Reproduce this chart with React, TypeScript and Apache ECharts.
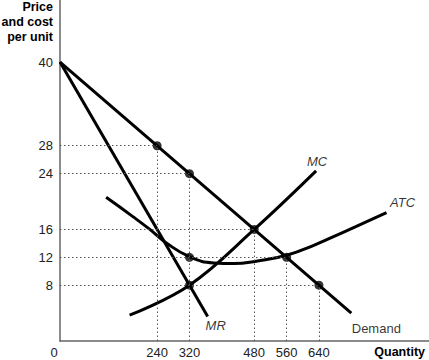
import React, { useEffect, useRef } from "react";
import * as echarts from "echarts";

// Curves (quantity, price)
const demand: [number, number][] = [[0, 40], [720, 4]];
const mr: [number, number][] = [[0, 40], [365, 3.5]];
const mc: [number, number][] = [[172, 3.7], [320, 8], [480, 16], [633, 24.4]];
const atc: [number, number][] = [
  [114, 20.6], [181, 17.8], [222, 16.0], [262, 14.1], [320, 12.1], [380, 11.2],
  [430, 11.1], [485, 11.45], [560, 12.3], [630, 13.8], [708, 15.8], [807, 18.4],
];

// Highlighted demand points with dotted guides
const guidePoints: [number, number][] = [[240, 28], [320, 24], [480, 16], [560, 12], [640, 8]];
const extraDots: [number, number][] = [[320, 12], [320, 8]];

const xTicks = [0, 240, 320, 480, 560, 640];
const yTicks = [8, 12, 16, 24, 28, 40];
const yTitleLines = ["Price", "and cost", "per unit"];

const curveLabels = [
  { name: "MC", at: mc[mc.length - 1], italic: true, offset: [1, -9] },
  { name: "ATC", at: atc[atc.length - 1], italic: true, offset: [16, -10] },
  { name: "MR", at: mr[mr.length - 1], italic: true, offset: [8, 9] },
  { name: "Demand", at: demand[demand.length - 1], italic: false, offset: [25, 15] },
];

const FONT = "'Liberation Sans', Arial, Helvetica, sans-serif";

export default function App() {
  const ref = useRef<HTMLDivElement>(null);
  useEffect(() => {
    if (!ref.current) return;
    const chart = echarts.init(ref.current, undefined, { renderer: "svg" });
    const guideLines: any[] = [];
    guidePoints.forEach(([x, y]) => {
      guideLines.push([{ coord: [0, y] }, { coord: [x, y] }]);
      guideLines.push([{ coord: [x, 0] }, { coord: [x, y] }]);
    });
    const lineStyle = { color: "#000", width: 3 };
    chart.setOption({
      animation: false,
      grid: { left: 60, right: 0, top: 0, bottom: 19 },
      xAxis: {
        type: "value",
        min: 0,
        max: 912,
        axisLine: { show: true, onZero: false, lineStyle: { color: "#666", width: 1.5 } },
        axisTick: { show: false },
        splitLine: { show: false },
        axisLabel: {
          customValues: xTicks,
          margin: 5,
          color: "#222",
          fontSize: 13,
          fontFamily: FONT,
          formatter: (v: number) => (v === 0 ? "{z|0}" : String(v)),
          rich: { z: { fontSize: 13, fontFamily: FONT, color: "#222", padding: [0, 12, 0, 0] } },
        },
      },
      yAxis: {
        type: "value",
        min: 0,
        max: 48.9,
        axisLine: { show: true, onZero: false, lineStyle: { color: "#666", width: 1.5 } },
        axisTick: { show: false },
        splitLine: { show: false },
        axisLabel: {
          customValues: yTicks,
          margin: 7,
          color: "#222",
          fontSize: 13,
          fontFamily: FONT,
        },
      },
      graphic: [
        ...yTitleLines.map((t, i) => ({
          type: "text",
          x: 53,
          y: 7 + i * 15,
          style: {
            text: t,
            align: "right",
            verticalAlign: "middle",
            fontSize: 12.5,
            fontWeight: "bold",
            fontFamily: FONT,
            fill: "#000",
          },
        })),
        {
          type: "text",
          x: 425,
          y: 352,
          style: {
            text: "Quantity",
            align: "right",
            verticalAlign: "middle",
            fontSize: 12.5,
            fontWeight: "bold",
            fontFamily: FONT,
            fill: "#000",
          },
        },
      ],
      series: [
        {
          type: "line",
          name: "guides",
          data: [],
          markLine: {
            silent: true,
            symbol: "none",
            label: { show: false },
            lineStyle: { type: [1.5, 2.5], color: "#555", width: 1 },
            data: guideLines,
          },
        },
        { type: "line", name: "Demand", data: demand, showSymbol: false, lineStyle, z: 3 },
        { type: "line", name: "MR", data: mr, showSymbol: false, lineStyle, z: 3 },
        { type: "line", name: "MC", data: mc, showSymbol: false, smooth: 0.4, lineStyle, z: 3 },
        { type: "line", name: "ATC", data: atc, showSymbol: false, smooth: 0.5, lineStyle, z: 3 },
        {
          type: "scatter",
          name: "dots",
          data: [...guidePoints, ...extraDots],
          symbolSize: 9,
          itemStyle: { color: "#000" },
          z: 4,
        },
        {
          type: "scatter",
          name: "labels",
          symbolSize: 0,
          silent: true,
          z: 5,
          data: curveLabels.map((l) => ({
            value: l.at,
            label: {
              show: true,
              formatter: l.name,
              position: "inside",
              offset: l.offset,
              fontStyle: l.italic ? "italic" : "normal",
              fontSize: 13,
              fontFamily: FONT,
              color: "#000",
            },
          })),
        },
      ],
    });
    return () => chart.dispose();
  }, []);
  return (
    <div
      ref={ref}
      style={{ position: "fixed", left: 0, top: 0, width: 429, height: 360, background: "#fff" }}
    />
  );
}
